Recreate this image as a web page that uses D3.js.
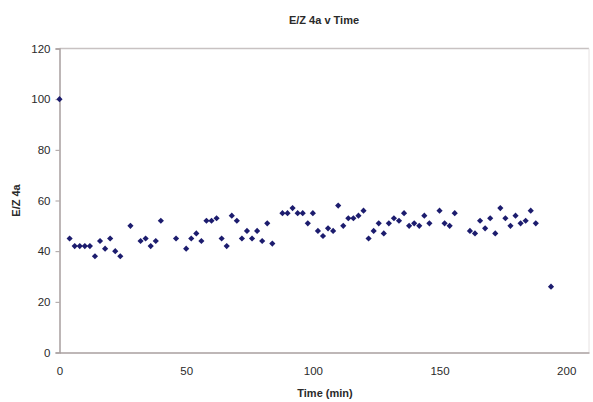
<!DOCTYPE html>
<html>
<head>
<meta charset="utf-8">
<script src="https://cdn.jsdelivr.net/npm/d3@7"></script>
<style>
  html, body { margin: 0; padding: 0; background: #ffffff; }
  svg { display: block; font-family: "Liberation Sans", Arial, sans-serif; }
</style>
</head>
<body>
<svg id="chart" width="593" height="402"></svg>
<script>
// Data
const timeMin = [0, 4, 6, 8, 10, 12, 14, 16, 18, 20, 22, 24, 28, 32, 34, 36, 38, 40, 46, 50,
  52, 54, 56, 58, 60, 62, 64, 66, 68, 70, 72, 74, 76, 78, 80, 82, 84, 88, 90, 92,
  94, 96, 98, 100, 102, 104, 106, 108, 110, 112, 114, 116, 118, 120, 122, 124, 126, 128, 130, 132,
  134, 136, 138, 140, 142, 144, 146, 150, 152, 154, 156, 162, 164, 166, 168, 170, 172, 174, 176, 178,
  180, 182, 184, 186, 188, 194];
const ez4a = [100, 45, 42, 42, 42, 42, 38, 44, 41, 45, 40, 38, 50, 44, 45, 42, 44, 52, 45, 41,
  45, 47, 44, 52, 52, 53, 45, 42, 54, 52, 45, 48, 45, 48, 44, 51, 43, 55, 55, 57,
  55, 55, 51, 55, 48, 46, 49, 48, 58, 50, 53, 53, 54, 56, 45, 48, 51, 47, 51, 53,
  52, 55, 50, 51, 50, 54, 51, 56, 51, 50, 55, 48, 47, 52, 49, 53, 47, 57, 53, 50,
  54, 51, 52, 56, 51, 26];
const xTicks = [0, 50, 100, 150, 200];
const yTicks = [0, 20, 40, 60, 80, 100, 120];
const titleText = "E/Z 4a v Time";
const xLabel = "Time (min)";
const yLabel = "E/Z 4a";

const svg = d3.select("#chart");
const pLeft = 59.5, pRight = 589, pTop = 48.5, pBottom = 352.5;

const x = d3.scaleLinear().domain([0, 209]).range([pLeft, pRight]);
const y = d3.scaleLinear().domain([0, 120]).range([pBottom, pTop]);

const axisColor = "#a89f9f";
const textColor = "#2a2a2a";

// plot frame (top and right)
svg.append("line").attr("x1", pLeft).attr("x2", pRight).attr("y1", pTop).attr("y2", pTop)
  .attr("stroke", "#c8c2c2").attr("stroke-width", 1.5);
svg.append("line").attr("x1", pRight).attr("x2", pRight).attr("y1", pTop).attr("y2", pBottom)
  .attr("stroke", "#e6e2e2").attr("stroke-width", 1);

// axes
const xAxis = svg.append("g").attr("transform", `translate(0,${pBottom})`)
  .call(d3.axisBottom(x).tickValues(xTicks).tickSize(0).tickPadding(14));
const yAxis = svg.append("g").attr("transform", `translate(${pLeft},0)`)
  .call(d3.axisLeft(y).tickValues(yTicks).tickSize(4).tickPadding(5));

[xAxis, yAxis].forEach(g => {
  g.select(".domain").attr("stroke", axisColor).attr("stroke-width", 1.5);
  g.selectAll(".tick line").attr("stroke", axisColor);
  g.selectAll(".tick text").attr("fill", textColor)
    .style("font-size", "11.5px").style("font-family", "'Liberation Sans', Arial, sans-serif");
});

// markers
svg.append("g").selectAll("path")
  .data(timeMin.map((t, i) => [t, ez4a[i]]))
  .join("path")
  .attr("d", d3.symbol().type(d3.symbolSquare).size(19))
  .attr("transform", d => `translate(${x(d[0])},${y(d[1])}) rotate(45)`)
  .attr("fill", "#1c1c6e");

// title and axis labels
svg.append("text").attr("x", 324).attr("y", 24).attr("text-anchor", "middle")
  .attr("fill", textColor).style("font-size", "11px").style("font-weight", "bold")
  .text(titleText);
svg.append("text").attr("x", 325).attr("y", 397).attr("text-anchor", "middle")
  .attr("fill", textColor).style("font-size", "11px").style("font-weight", "bold")
  .text(xLabel);
svg.append("text").attr("transform", `translate(20,${(pTop + pBottom) / 2}) rotate(-90)`)
  .attr("text-anchor", "middle")
  .attr("fill", textColor).style("font-size", "11px").style("font-weight", "bold")
  .text(yLabel);
</script>
</body>
</html>
